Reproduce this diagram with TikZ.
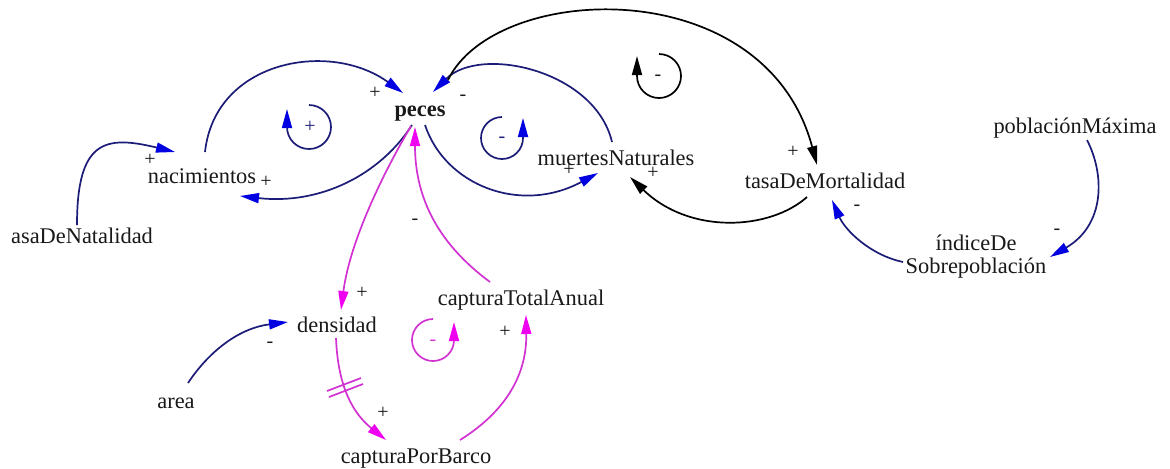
\documentclass[tikz,border=0pt]{standalone}
\usepackage{fontspec}
\setmainfont{Liberation Serif}
\usetikzlibrary{arrows.meta}
\definecolor{navyl}{RGB}{28,28,120}
\definecolor{bluehead}{RGB}{0,0,225}
\definecolor{magl}{RGB}{210,50,210}
\definecolor{maghead}{RGB}{240,0,240}
\definecolor{txt}{RGB}{25,25,25}
\begin{document}
\begin{tikzpicture}[x=0.5pt,y=-0.5pt,
  var/.style={inner sep=0pt, anchor=base, text=txt, font=\fontsize{11.2}{13}\selectfont},
  sgn/.style={inner sep=0pt, text=txt, font=\fontsize{10}{11}\selectfont},
  bl/.style={draw=navyl, line width=0.85pt, -{Triangle[length=9.5pt,width=5pt,color=bluehead]}},
  bk/.style={draw=black, line width=0.85pt, -{Triangle[length=9.5pt,width=5pt,color=black]}},
  mg/.style={draw=magl, line width=0.85pt, -{Triangle[length=9.5pt,width=5pt,color=maghead]}},
  dl/.style={draw=magl, line width=0.85pt}
]
\useasboundingbox[fill=white] (0,0) rectangle (1170,468);

% variables
\node[var, font=\fontsize{11.2}{13}\selectfont\bfseries] (peces) at (420,116) {peces};
\node[var] (nac) at (202,183) {nacimientos};
\node[var] (asa) at (82,243) {asaDeNatalidad};
\node[var] (muertes) at (616,165) {muertesNaturales};
\node[var] (tasa) at (825,188) {tasaDeMortalidad};
\node[var] (pobl) at (1075,133) {poblaciónMáxima};
\node[inner sep=0pt, align=center, text=txt, font=\fontsize{11.2}{11.5}\selectfont] (indice) at (976,257) {índiceDe\\Sobrepoblación};
\node[var] (dens) at (337,332) {densidad};
\node[var] (ctotal) at (521,305) {capturaTotalAnual};
\node[var] (area) at (176,408) {area};
\node[var] (cpb) at (416,463) {capturaPorBarco};

% connectors
\draw[bl] ([shift={(-5,-18)}]asa.base) .. controls (77,140) and (105,135) .. ([shift={(-27,-31)}]nac.base);
\draw[bl] ([shift={(3,-31)}]nac.base) .. controls (215,60) and (330,40) .. ([shift={(-17,-23)}]peces.base);
\draw[bl] ([shift={(-8,9)}]peces.base) .. controls (380,175) and (320,205) .. ([shift={(38,13)}]nac.base);
\draw[bl] ([shift={(-4,-23)}]muertes.base) .. controls (595,70) and (480,45) .. ([shift={(13,-24)}]peces.base);
\draw[bl] ([shift={(5,9)}]peces.base) .. controls (445,185) and (520,215) .. ([shift={(-18,8)}]muertes.base);
\draw[bk] ([shift={(28,-36)}]peces.base) .. controls (495,-18) and (765,-30) .. ([shift={(-8,-23)}]tasa.base);
\draw[bk] ([shift={(-18,9)}]tasa.base) .. controls (770,230) and (690,235) .. ([shift={(14,12)}]muertes.base);
\draw[bl] ([shift={(12,7)}]pobl.base) .. controls (1105,175) and (1105,225) .. ([shift={(74,0)}]indice.center);
\draw[bl] ([shift={(-73,5)}]indice.center) .. controls (870,255) and (845,230) .. ([shift={(7,12)}]tasa.base);
\draw[bl] ([shift={(12,-25)}]area.base) .. controls (210,350) and (240,328) .. ([shift={(-49,-10)}]dens.base);
\draw[mg] ([shift={(-9,10)}]peces.base) .. controls (385,170) and (350,240) .. ([shift={(4,-22)}]dens.base);
\draw[mg] ([shift={(-31,-23)}]ctotal.base) .. controls (440,245) and (415,200) .. ([shift={(-5,11)}]peces.base);
\draw[mg] ([shift={(-1,6)}]dens.base) .. controls (338,390) and (355,415) .. ([shift={(-30,-23)}]cpb.base);
\draw[mg] ([shift={(44,-23)}]cpb.base) .. controls (500,415) and (527,380) .. ([shift={(5,10)}]ctotal.base);

% delay mark
\draw[dl] (327,391) -- (361,378);
\draw[dl] (329,397) -- (363,384);

% loop symbols
\draw[bl] (309,105) arc[start angle=-90,end angle=180,radius=22] -- ++(0,-18);
\node[sgn, text=navyl] (l1) at (310,127) {+};
\draw[bl] (502,117) arc[start angle=-90,end angle=-360,radius=21] -- ++(0,-20);
\node[sgn, text=navyl] (l2) at (502,140) {-};
\draw[bk] (659,54) arc[start angle=-90,end angle=180,radius=22] -- ++(0,-20);
\node[sgn] (l3) at (658,78) {-};
\draw[mg] (433,319) arc[start angle=-90,end angle=-360,radius=21] -- ++(0,-18);
\node[sgn, text=magl] (l4) at (433,343) {-};

% polarity signs
\node[sgn] (s1) at (150,160) {+};
\node[sgn] (s2) at (375,93) {+};
\node[sgn] (s3) at (266,182) {+};
\node[sgn] (s4) at (463,98) {-};
\node[sgn] (s5) at (569,170) {+};
\node[sgn] (s6) at (793,152) {+};
\node[sgn] (s7) at (653,173) {+};
\node[sgn] (s8) at (1057,232) {-};
\node[sgn] (s9) at (857,208) {-};
\node[sgn] (s10) at (270,345) {-};
\node[sgn] (s11) at (362,293) {+};
\node[sgn] (s12) at (415,222) {-};
\node[sgn] (s13) at (383,413) {+};
\node[sgn] (s14) at (505,332) {+};
\end{tikzpicture}
\end{document}
